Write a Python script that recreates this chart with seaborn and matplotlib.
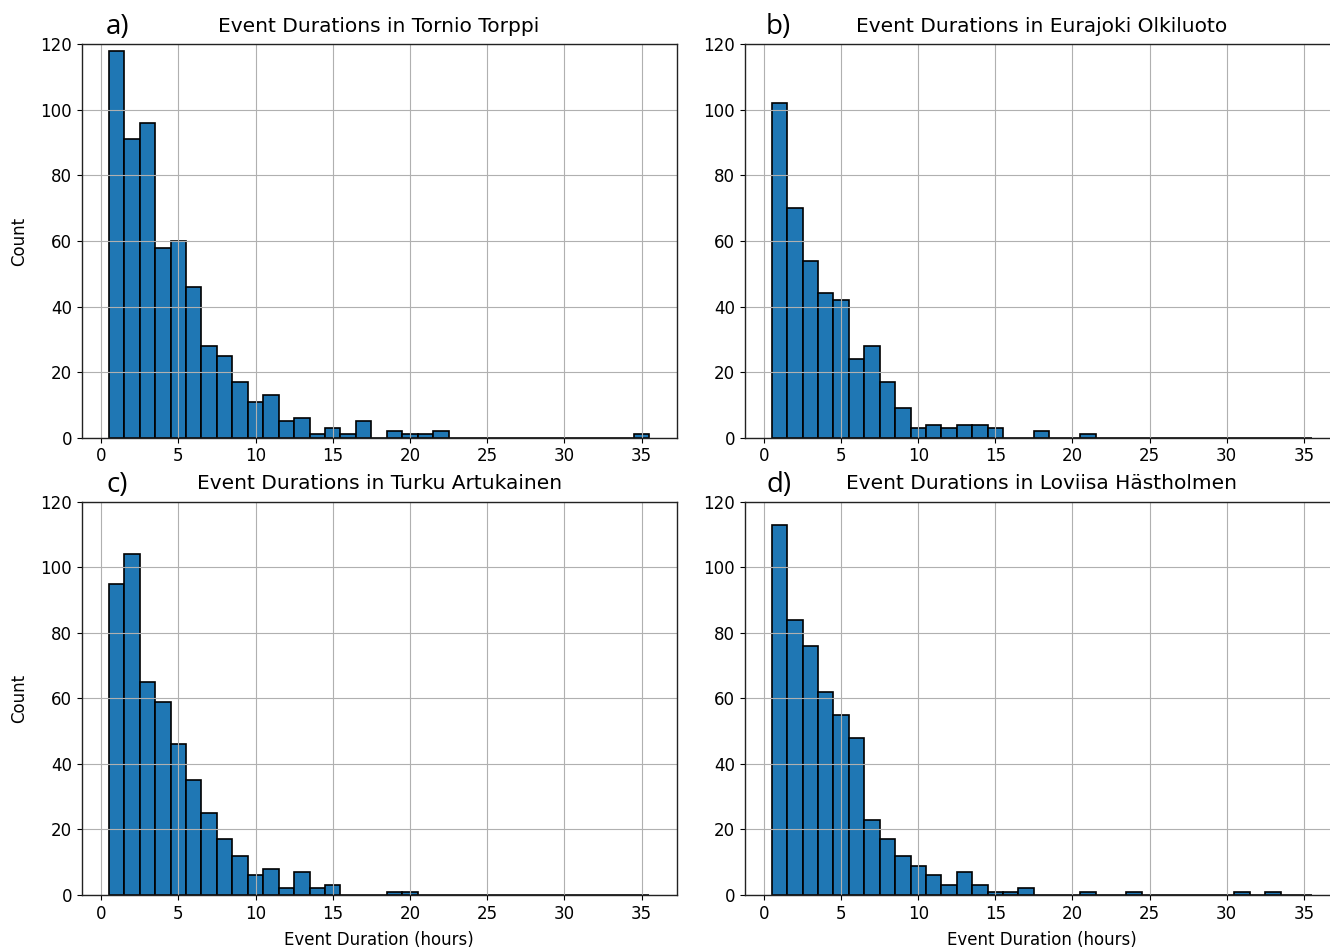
import pandas as pd
import matplotlib
matplotlib.use("Agg")
import matplotlib.pyplot as plt
import seaborn as sns

# Hourly duration bins (bin centres 1..35 h, edges at half hours)
duration_hours = list(range(1, 36))

# Event counts per duration bin at each station
tornio_torppi = [118, 91, 96, 58, 60, 46, 28, 25, 17, 11, 13, 5, 6, 1, 3, 1, 5, 0,
                 2, 1, 1, 2, 0, 0, 0, 0, 0, 0, 0, 0, 0, 0, 0, 0, 1]
eurajoki_olkiluoto = [102, 70, 54, 44, 42, 24, 28, 17, 9, 3, 4, 3, 4, 4, 3, 0, 0, 2,
                      0, 0, 1, 0, 0, 0, 0, 0, 0, 0, 0, 0, 0, 0, 0, 0, 0]
turku_artukainen = [95, 104, 65, 59, 46, 35, 25, 17, 12, 6, 8, 2, 7, 2, 3, 0, 0, 0,
                    1, 1, 0, 0, 0, 0, 0, 0, 0, 0, 0, 0, 0, 0, 0, 0, 0]
loviisa_hastholmen = [113, 84, 76, 62, 55, 48, 23, 17, 12, 9, 6, 3, 7, 3, 1, 1, 2, 0,
                      0, 0, 1, 0, 0, 1, 0, 0, 0, 0, 0, 0, 1, 0, 1, 0, 0]

stations = ["Tornio Torppi", "Eurajoki Olkiluoto", "Turku Artukainen", "Loviisa Hästholmen"]
panel_tags = ["a)", "b)", "c)", "d)"]
series = [tornio_torppi, eurajoki_olkiluoto, turku_artukainen, loviisa_hastholmen]

W, H = 1330, 947
fig = plt.figure(figsize=(W / 100, H / 100), dpi=100)

# axes rectangles in pixels: left, top, right, bottom
rects = [
    (81.7, 44.3, 676.5, 437.7),
    (744.7, 44.3, 1338.5, 437.7),
    (81.7, 501.7, 676.5, 895.0),
    (744.7, 501.7, 1338.5, 895.0),
]
tag_pos = [(106, 34), (766, 34), (106, 491.5), (766, 491.5)]

for i, (name, tag, counts) in enumerate(zip(stations, panel_tags, series)):
    l, t, r, b = rects[i]
    ax = fig.add_axes([l / W, 1 - b / H, (r - l) / W, (b - t) / H])
    df = pd.DataFrame({"hours": duration_hours, "events": counts})
    sns.histplot(data=df, x="hours", weights="events", bins=35, binrange=(0.5, 35.5),
                 ax=ax, color="#1f77b4", edgecolor="black", linewidth=1.2, alpha=1.0)
    ax.set_xlim(-1.25, 37.25)
    ax.set_ylim(0, 120)
    ax.set_xticks(range(0, 36, 5))
    ax.set_yticks(range(0, 121, 20))
    ax.grid(True, color="#b0b0b0", linewidth=0.8)
    ax.tick_params(labelsize=12)
    ax.set_title(f"Event Durations in {name}", fontsize=14.5, pad=9)
    if i % 2 == 0:
        ax.set_ylabel("Count", fontsize=12, labelpad=9)
    else:
        ax.set_ylabel("")
    if i >= 2:
        ax.set_xlabel("Event Duration (hours)", fontsize=12, labelpad=6)
    else:
        ax.set_xlabel("")
    for sp in ax.spines.values():
        sp.set_visible(True)
        sp.set_color("#222222")
        sp.set_linewidth(1.0)
    tx, ty = tag_pos[i]
    fig.text(tx / W, 1 - ty / H, tag, fontsize=20, family="Open Sans",
             va="baseline", ha="left")

fig.savefig("out.png", dpi=100)
